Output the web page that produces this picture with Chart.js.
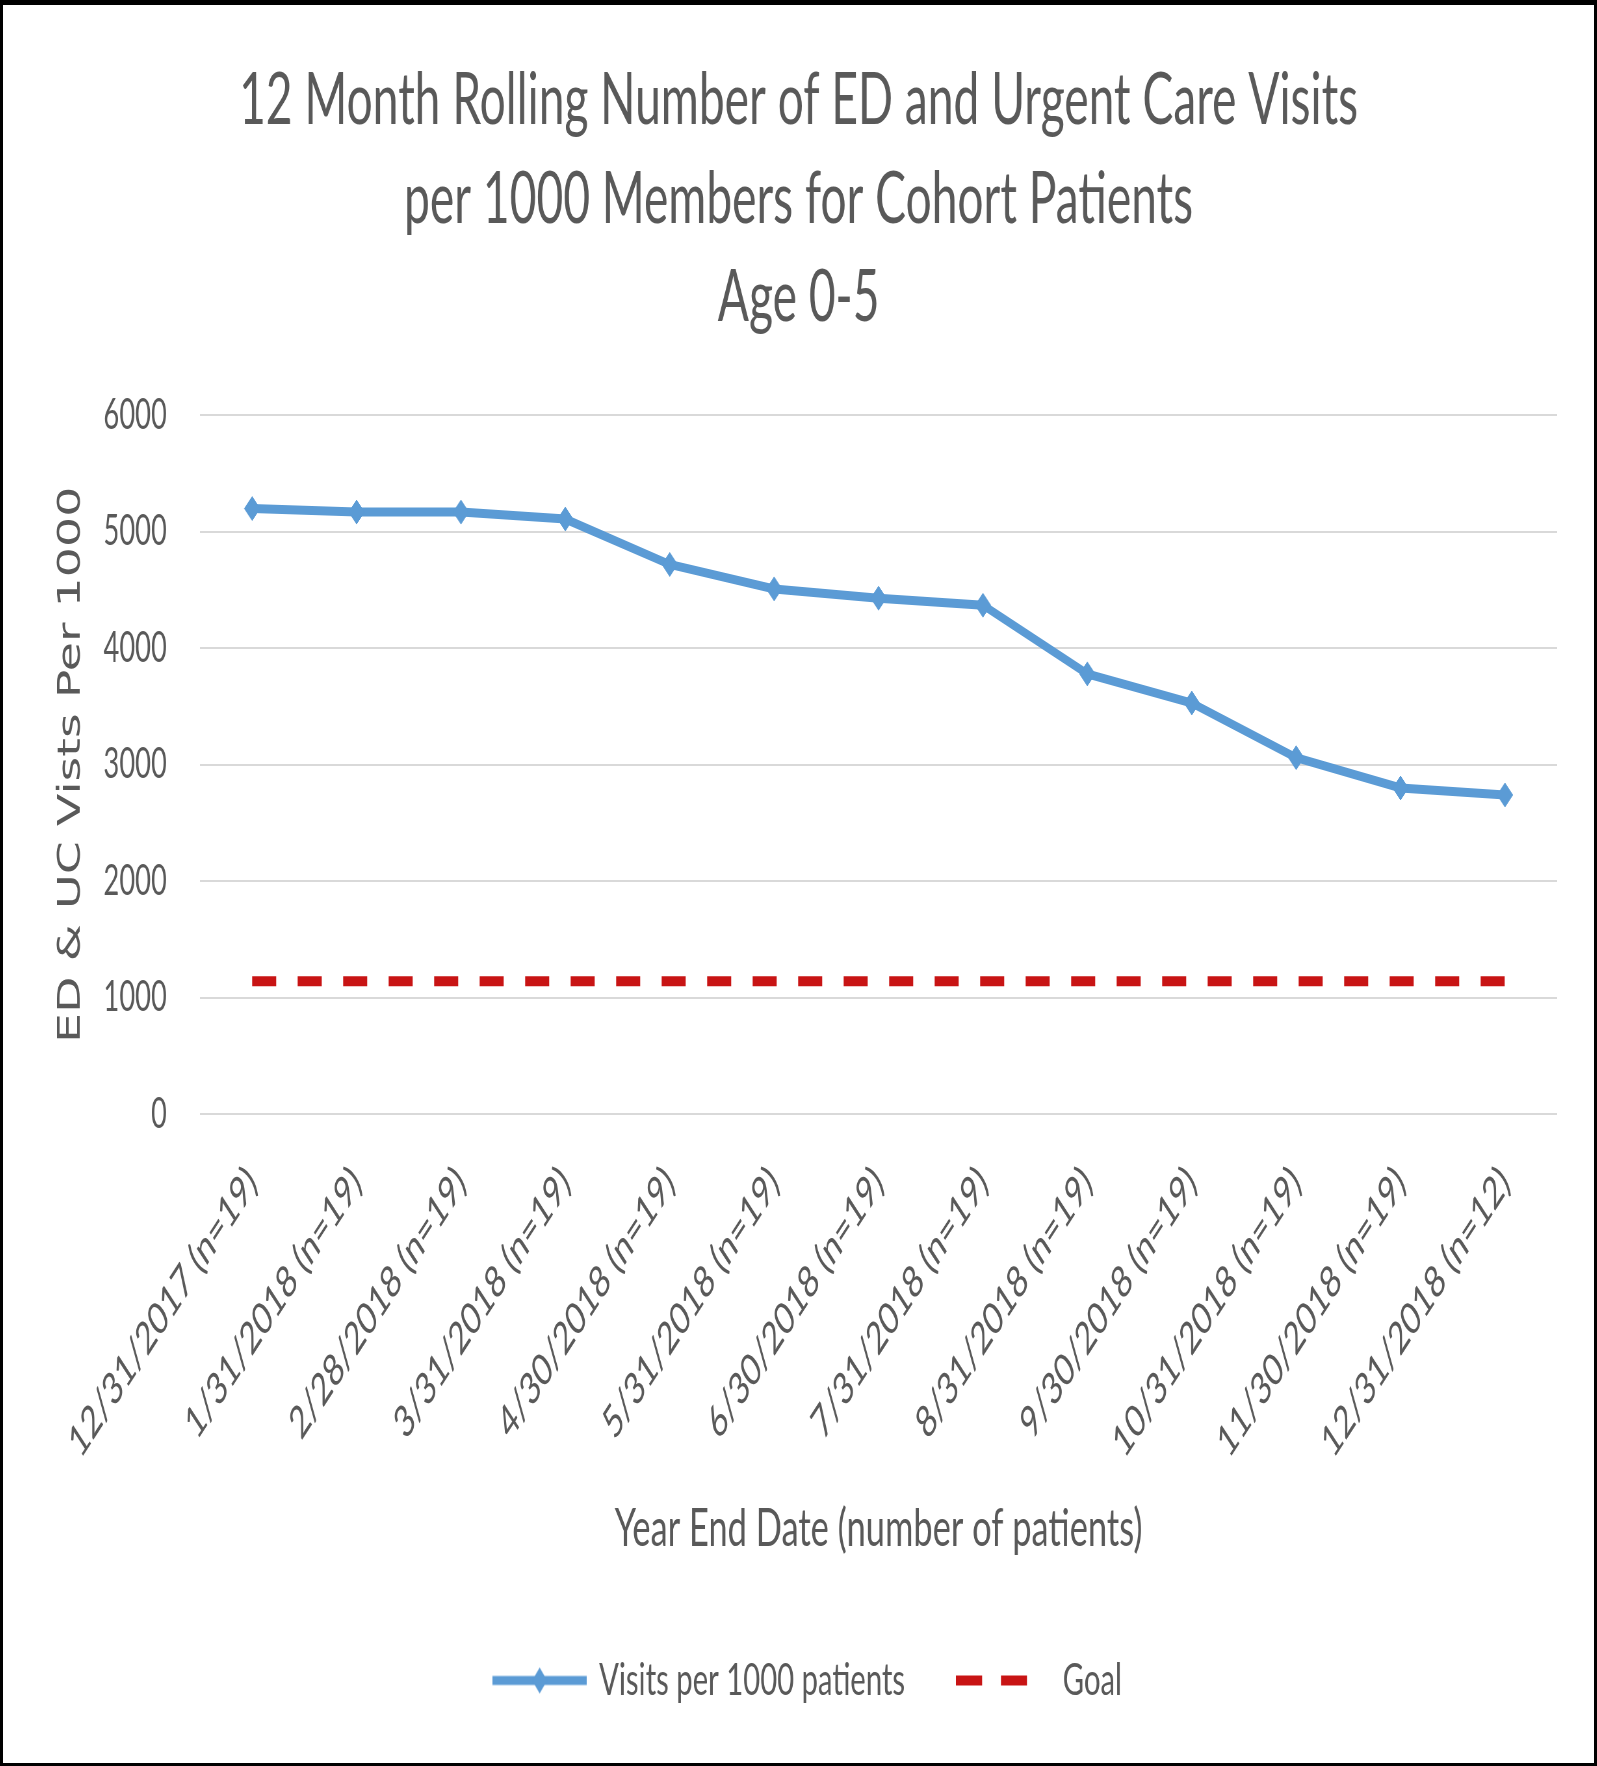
<!DOCTYPE html>
<html>
<head>
<meta charset="utf-8">
<title>ED and Urgent Care Visits</title>
<script src="https://cdn.jsdelivr.net/npm/chart.js@4.4.1/dist/chart.umd.min.js"></script>
<style>
  html, body { margin: 0; padding: 0; background: #fff; overflow: hidden; }
  .frame { position: relative; width: 1597px; height: 1766px; box-sizing: border-box; border: 3px solid #000; border-top-width: 5px; overflow: hidden; background: #fff; }
  /* the source picture is squeezed horizontally, so draw wide and squeeze */
  .squash { position: absolute; left: 0; top: 0; width: 2448px; height: 1758px; transform: scaleX(0.65); transform-origin: 0 0; }
</style>
</head>
<body>
<div class="frame"><div class="squash"><canvas id="visitsChart"></canvas></div></div>
<script>
// chart values
const categories = [
  "12/31/2017 (n=19)", "1/31/2018 (n=19)", "2/28/2018 (n=19)", "3/31/2018 (n=19)",
  "4/30/2018 (n=19)", "5/31/2018 (n=19)", "6/30/2018 (n=19)", "7/31/2018 (n=19)",
  "8/31/2018 (n=19)", "9/30/2018 (n=19)", "10/31/2018 (n=19)", "11/30/2018 (n=19)",
  "12/31/2018 (n=12)"
];
const visitsPer1000 = [5200, 5170, 5170, 5110, 4720, 4510, 4430, 4370, 3780, 3530, 3060, 2800, 2740];
const goalValues = [1140, 1140, 1140, 1140, 1140, 1140, 1140, 1140, 1140, 1140, 1140, 1140, 1140];
const yTicks = [0, 1000, 2000, 3000, 4000, 5000, 6000];

const titleLines = [
  "12 Month Rolling Number of ED and Urgent Care Visits",
  "per 1000 Members for Cohort Patients",
  "Age 0-5"
];

const blue = "#5b9bd5";
const red = "#c81414";
const grey = "#595959";

Chart.defaults.font.family = "Lato, 'Open Sans', sans-serif";
Chart.defaults.color = grey;

// legend symbols (line with marker, two dashes)
const makeIcon = (draw) => {
  const c = document.createElement("canvas");
  c.width = 145;
  c.height = 32;
  draw(c.getContext("2d"));
  return c;
};
const visitsIcon = makeIcon((g) => {
  g.strokeStyle = blue;
  g.lineWidth = 9;
  g.beginPath(); g.moveTo(0, 16); g.lineTo(145, 16); g.stroke();
  g.fillStyle = blue;
  g.beginPath(); g.moveTo(61, 16); g.lineTo(72.5, 3); g.lineTo(84, 16); g.lineTo(72.5, 29); g.closePath(); g.fill();
});
const goalIcon = makeIcon((g) => {
  g.fillStyle = red;
  g.fillRect(0, 11, 40, 10);
  g.fillRect(69, 11, 40, 10);
});

// legend sits a little right of centre in the source
const legendNudge = {
  id: "legendNudge",
  afterLayout: (chart) => {
    chart.legend.left += 15;
    chart.legend.right += 15;
  }
};

const ctx = document.getElementById("visitsChart");

new Chart(ctx, {
  type: "line",
  data: {
    labels: categories,
    datasets: [
      {
        label: "Visits per 1000 patients",
        data: visitsPer1000,
        borderColor: blue,
        backgroundColor: blue,
        borderWidth: 9,
        tension: 0,
        pointStyle: "rectRot",
        pointRadius: 12,
        pointBackgroundColor: blue,
        pointBorderColor: blue,
        pointBorderWidth: 1
      },
      {
        label: "Goal",
        data: goalValues,
        borderColor: red,
        backgroundColor: red,
        borderWidth: 10,
        borderDash: [37, 33],
        borderCapStyle: "butt",
        pointRadius: 0,
        tension: 0
      }
    ]
  },
  options: {
    responsive: true,
    maintainAspectRatio: false,
    animation: false,
    layout: { padding: { top: 0, left: 57, right: 57, bottom: 50 } },
    plugins: {
      title: {
        display: true,
        text: titleLines,
        color: grey,
        font: { size: 71, weight: "normal", lineHeight: 1.387 },
        padding: { top: 47, bottom: 68 }
      },
      legend: {
        position: "bottom",
        labels: {
          usePointStyle: true,
          pointStyleWidth: 138,
          padding: 82,
          font: { size: 45 },
          color: grey,
          generateLabels: (chart) => {
            const items = Chart.defaults.plugins.legend.labels.generateLabels(chart);
            items[0].pointStyle = visitsIcon;
            items[1].pointStyle = goalIcon;
            return items;
          }
        }
      },
      tooltip: { enabled: false }
    },
    scales: {
      x: {
        offset: true,
        grid: { display: false, drawTicks: false },
        border: { display: false },
        ticks: { minRotation: 45, maxRotation: 45, padding: 42, font: { size: 45 }, color: grey },
        title: {
          display: true,
          text: "Year End Date (number of patients)",
          color: grey,
          font: { size: 53 },
          padding: { top: 0, bottom: 15 }
        },
        afterFit: (scale) => { scale.height = 462; }
      },
      y: {
        min: 0,
        max: 6000,
        grid: { color: "#d9d9d9", lineWidth: 2, drawTicks: false },
        border: { display: false },
        afterBuildTicks: (scale) => { scale.ticks = yTicks.map((v) => ({ value: v })); },
        ticks: { padding: 51, font: { size: 42 }, color: grey, callback: (v) => String(v) },
        title: {
          display: true,
          text: "ED & UC Vists Per 1000",
          color: grey,
          font: { family: "'DejaVu Sans', sans-serif", size: 47.5 },
          padding: { top: 20, bottom: 0 }
        },
        afterFit: (scale) => { scale.width = 246; }
      }
    }
  },
  plugins: [legendNudge]
});
</script>
</body>
</html>
